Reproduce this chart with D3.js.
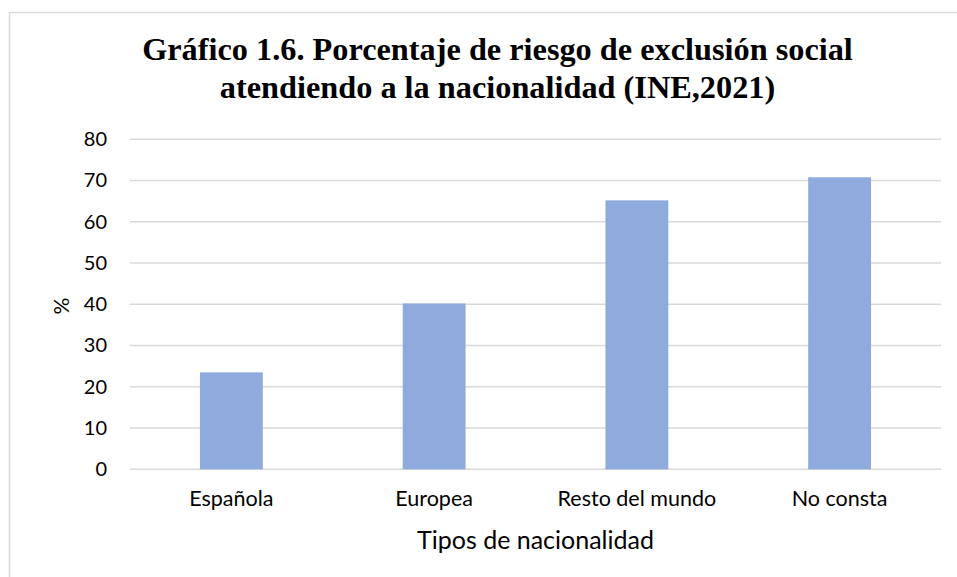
<!DOCTYPE html>
<html>
<head>
<meta charset="utf-8">
<script src="https://cdn.jsdelivr.net/npm/d3@7"></script>
<style>
  html, body { margin: 0; padding: 0; background: #fff; }
  svg { display: block; }
</style>
</head>
<body>
<svg id="chart" width="957" height="577"></svg>
<script>
const categories = ["Española", "Europea", "Resto del mundo", "No consta"];
const values = [23.5, 40.2, 65.2, 70.8];
const yTicks = [0, 10, 20, 30, 40, 50, 60, 70, 80];
const titleLines = ["Gráfico 1.6. Porcentaje de riesgo de exclusión social", "atendiendo a la nacionalidad (INE,2021)"];
const xTitle = "Tipos de nacionalidad";
const yTitle = "%";

(function () {
const svg = d3.select("#chart");
const plotLeft = 130, plotRight = 941, plotTop = 139.3, plotBottom = 469.3;
const sans = "Lato, 'Open Sans', sans-serif";

// chart border
svg.append("path")
  .attr("d", "M9.5,580 V12.5 H960")
  .attr("fill", "none").attr("stroke", "#d9d9d9").attr("stroke-width", 1.5);

const x = d3.scaleBand().domain(categories).range([plotLeft, plotRight])
  .paddingInner(0.69).paddingOuter(0.345);
const y = d3.scaleLinear().domain([0, 80]).range([plotBottom, plotTop]);

// gridlines
svg.append("g").selectAll("line").data(yTicks).join("line")
  .attr("x1", plotLeft).attr("x2", plotRight)
  .attr("y1", d => y(d)).attr("y2", d => y(d))
  .attr("stroke", "#d9d9d9").attr("stroke-width", 1.5);

// bars
svg.append("g").selectAll("rect").data(values).join("rect")
  .attr("x", (d, i) => x(categories[i]))
  .attr("width", x.bandwidth())
  .attr("y", d => y(d))
  .attr("height", d => y(0) - y(d))
  .attr("fill", "#8faadc");

// y axis labels
const yAxis = d3.axisLeft(y).tickValues(yTicks).tickSize(0).tickPadding(0);
const gy = svg.append("g").attr("transform", `translate(${plotLeft - 23},0)`).call(yAxis);
gy.select(".domain").remove();
gy.selectAll("text").attr("font-family", sans)
  .attr("font-size", 20).attr("fill", "#000");

// x axis labels
const xAxis = d3.axisBottom(x).tickSize(0).tickPadding(0);
const gx = svg.append("g").attr("transform", `translate(0,${plotBottom + 21})`).call(xAxis);
gx.select(".domain").remove();
gx.selectAll("text").attr("font-family", sans)
  .attr("font-size", 21.5).attr("fill", "#000").attr("dy", "0.71em");

// axis titles
svg.append("text").attr("x", (plotLeft + plotRight) / 2).attr("y", 549)
  .attr("text-anchor", "middle")
  .attr("font-family", sans).attr("font-size", 25)
  .attr("fill", "#000").text(xTitle);

svg.append("text")
  .attr("transform", "translate(69,306) rotate(-90)")
  .attr("text-anchor", "middle")
  .attr("font-family", sans).attr("font-size", 21)
  .attr("fill", "#000").text(yTitle);

// title
svg.append("g").selectAll("text").data(titleLines).join("text")
  .attr("x", 497.5).attr("y", (d, i) => 60 + i * 38)
  .attr("text-anchor", "middle")
  .attr("font-family", "'Liberation Serif', 'Times New Roman', serif")
  .attr("font-weight", "bold").attr("font-size", 32.3)
  .attr("fill", "#000").text(d => d);
})();
</script>
</body>
</html>
